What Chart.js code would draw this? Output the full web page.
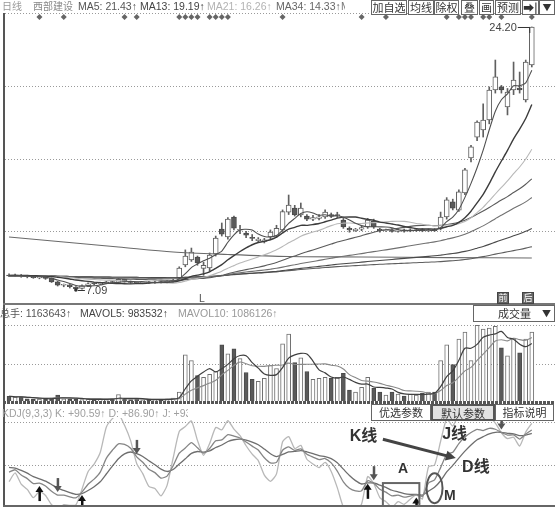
<!DOCTYPE html>
<html><head><meta charset="utf-8">
<script src="https://cdn.jsdelivr.net/npm/chart.js@4.4.0/dist/chart.umd.min.js"></script>
<style>
html,body{margin:0;padding:0;width:555px;height:507px;overflow:hidden;background:#fff;font-family:"Liberation Sans",Arial,"Noto Sans CJK SC",sans-serif;}
canvas{position:absolute;left:0;}
.t{position:absolute;font-size:10.5px;white-space:nowrap;line-height:12px;z-index:5;}
.cj{font-family:"Noto Sans CJK SC",sans-serif;font-size:10px;}
.btn{position:absolute;border:1px solid #666;font-size:11px;line-height:13px;text-align:center;color:#333;background:#fff;box-sizing:border-box;font-family:"Noto Sans CJK SC","Liberation Sans",sans-serif;z-index:6;white-space:nowrap;overflow:hidden;}
.ln{position:absolute;z-index:4;}
</style></head><body>
<canvas id="cMain" width="555" height="305" style="top:0"></canvas>
<canvas id="cVol" width="555" height="99" style="top:305px"></canvas>
<canvas id="cKdj" width="555" height="104" style="top:404px"></canvas>

<!-- header row 1 -->
<div class="t cj" style="left:2px;top:0;color:#999">日线</div>
<div class="t cj" style="left:33px;top:0;color:#888">西部建设</div>
<div class="t" style="left:78px;top:0;color:#555">MA5: 21.43↑</div>
<div class="t" style="left:140px;top:0;color:#444">MA13: 19.19↑</div>
<div class="t" style="left:207px;top:0;color:#b3b3b3">MA21: 16.26↑</div>
<div class="t" style="left:276px;top:0;color:#666">MA34: 14.33↑</div>
<div class="t" style="left:341px;top:0;color:#777;width:4px;overflow:hidden">M</div>
<div class="btn" style="left:371px;top:0;width:36px;height:15px">加自选</div>
<div class="btn" style="left:408px;top:0;width:26px;height:15px">均线</div>
<div class="btn" style="left:434px;top:0;width:25px;height:15px">除权</div>
<div class="btn" style="left:461px;top:0;width:17px;height:15px">叠</div>
<div class="btn" style="left:479px;top:0;width:15px;height:15px">画</div>
<div class="btn" style="left:495px;top:0;width:26px;height:15px">预测</div>
<div class="btn" style="left:522px;top:0;width:17px;height:15px;font-weight:bold">➡|</div>
<div class="btn" style="left:539px;top:0;width:16px;height:15px;font-size:9px">▼</div>

<!-- main panel misc -->
<div class="t" style="left:199px;top:292px;color:#555">L</div>
<div class="btn" style="left:497px;top:292px;width:12px;height:12px;font-size:9px;line-height:10px;background:#666;color:#fff;border-color:#444">前</div>
<div class="btn" style="left:522px;top:292px;width:12px;height:12px;font-size:9px;line-height:10px;background:#666;color:#fff;border-color:#444">后</div>

<!-- volume header -->
<div class="t" style="left:0;top:307px;color:#555"><span class="cj">总手</span>: 1163643↑</div>
<div class="t" style="left:80px;top:307px;color:#444">MAVOL5: 983532↑</div>
<div class="t" style="left:178px;top:307px;color:#999">MAVOL10: 1086126↑</div>
<div class="btn" style="left:473px;top:305px;width:82px;height:17px;line-height:15px;text-align:left;padding-left:24px">成交量<span style="position:absolute;left:68px;font-size:9px">▼</span></div>

<!-- kdj header -->
<div class="t" style="left:2px;top:407px;color:#a0a0a0;width:186px;overflow:hidden">KDJ(9,3,3) K: +90.59↑ D: +86.90↑ J: +93.97↑</div>
<div class="btn" style="left:371px;top:404px;width:60px;height:17px;line-height:15px">优选参数</div>
<div class="btn" style="left:431px;top:404px;width:64px;height:17px;line-height:15px;background:#e2e2e2;border:2px solid #555">默认参数</div>
<div class="btn" style="left:495px;top:404px;width:59px;height:17px;line-height:15px">指标说明</div>

<!-- frame lines -->
<div class="ln" style="left:3px;top:13px;width:2px;height:494px;background:#555"></div>
<div class="ln" style="left:3px;top:303px;width:552px;height:2px;background:#777"></div>
<div class="ln" style="left:3px;top:401px;width:552px;height:3px;background:repeating-linear-gradient(90deg,#555 0 3px,#fff 3px 4px)"></div>
<div class="ln" style="left:3px;top:505px;width:552px;height:2px;background:#666"></div>

<script>
// ---------------- DATA ----------------
const opens  = [8.05,8.00,8.05,7.98,7.95,7.88,7.92,7.85,7.62,7.40,7.42,7.28,7.20,7.38,7.50,7.48,7.55,7.60,7.58,7.78,7.65,7.58,7.55,7.60,7.56,7.62,7.58,7.65,
  7.85,8.72,9.04,9.24,8.50,8.52,9.43,11.05,10.54,11.84,10.98,10.80,10.50,10.30,10.25,10.54,10.60,11.00,12.16,12.42,11.97,11.90,11.70,11.75,11.84,12.00,11.90,11.64,11.10,10.95,11.05,11.19,11.58,11.05,10.95,11.00,10.90,11.00,10.92,10.95,11.02,10.93,11.02,
  11.12,11.84,12.82,12.29,13.40,15.68,17.04,17.50,18.15,20.10,20.30,19.00,20.10,20.23,19.45,21.73];
const highs  = [8.15,8.12,8.10,8.05,8.00,7.98,7.95,7.88,7.66,7.48,7.45,7.32,7.42,7.55,7.58,7.60,7.66,7.66,7.86,7.80,7.68,7.62,7.64,7.65,7.66,7.66,7.70,7.80,
  8.60,9.70,9.82,9.30,8.90,9.50,10.60,11.45,11.80,11.90,11.30,10.90,10.70,10.50,10.45,11.00,11.30,12.30,13.27,12.60,12.75,12.00,11.95,12.00,12.30,12.10,12.15,11.75,11.20,11.10,11.25,11.75,11.70,11.10,11.05,11.08,11.05,11.06,11.06,11.10,11.08,11.06,11.08,
  12.16,13.10,13.00,13.60,15.00,16.50,18.10,19.20,20.30,22.05,20.40,20.20,21.92,21.27,22.05,24.20];
const lows   = [7.95,7.95,7.92,7.88,7.85,7.82,7.78,7.58,7.35,7.30,7.22,7.09,7.15,7.35,7.42,7.44,7.50,7.52,7.55,7.60,7.52,7.50,7.50,7.52,7.52,7.54,7.55,7.60,
  7.80,8.60,8.95,8.70,8.05,8.30,9.30,10.60,10.40,11.00,10.75,10.50,10.30,10.20,10.15,10.40,10.50,10.90,12.00,11.90,11.85,11.60,11.60,11.65,11.75,11.80,11.80,11.10,10.85,10.90,10.95,11.10,11.10,10.85,10.90,10.85,10.85,10.86,10.88,10.90,10.88,10.88,10.90,
  11.00,11.70,12.30,12.20,13.30,15.42,16.80,17.04,17.90,19.90,19.90,18.48,19.80,19.90,19.32,21.60];
const closes = [8.00,8.05,7.98,7.95,7.90,7.92,7.85,7.62,7.40,7.42,7.30,7.18,7.38,7.50,7.48,7.55,7.60,7.58,7.78,7.65,7.58,7.55,7.60,7.56,7.62,7.58,7.65,7.72,
  8.52,9.30,9.56,8.85,8.70,9.37,10.47,10.73,11.71,11.12,11.02,10.65,10.45,10.40,10.35,10.86,11.10,12.20,12.62,11.97,12.42,11.70,11.80,11.85,12.16,11.90,12.00,11.19,11.00,11.05,11.15,11.64,11.19,10.95,11.00,10.90,11.00,10.92,11.00,11.02,10.93,11.00,10.95,
  11.84,12.95,12.42,13.47,14.90,16.40,18.02,18.15,20.10,20.95,20.10,19.97,20.75,20.10,21.92,24.20];
const volumes = [110000,95000,100000,70000,60000,65000,70000,80000,130000,70000,65000,60000,55000,60000,65000,60000,55000,70000,140000,60000,55000,60000,50000,55000,60000,55000,65000,80000,
  178000,792000,695000,452000,420000,469000,517000,953000,808000,889000,727000,501000,388000,356000,404000,614000,566000,970000,1131000,663000,743000,517000,388000,404000,420000,404000,420000,485000,210000,178000,
  259000,420000,242000,178000,129000,178000,145000,113000,145000,129000,162000,178000,178000,
  695000,953000,630000,1050000,1163000,695000,1276000,1212000,1228000,1260000,905000,776000,1066000,824000,1050000,1163643];
// closes of the sessions before the visible window (flat base, estimated)
const priorCloses = [8.10,8.05,8.12,8.08,8.02,7.98,8.04,8.10,8.15,8.08,8.00,7.95,7.98,8.03,8.06,8.01,7.96,7.92,7.97,8.02,8.05,8.00,7.94,7.90,7.93,7.99,8.04,8.08,8.03,7.97,7.92,7.88,7.93,7.98,8.02,8.06,8.01,7.96,7.91,7.95,8.00,8.04,8.07,8.02,7.98,7.94,7.97,8.01,8.05,8.09,8.04,7.99,8.03,8.07,8.10,8.06,8.02];
// MA233 at a few sessions
const ma233Days   = [0, 9, 18, 27, 36, 46, 58, 72, 86];
const ma233Values = [10.54, 10.21, 9.89, 9.56, 9.40, 9.27, 9.24, 9.20, 9.17];
const maPeriods = [5, 13, 21, 34, 55, 89, 144];
const maColors  = ['#505050', '#3c3c3c', '#b8b8b8', '#5a5a5a', '#707070', '#4a4a4a', '#5e5e5e'];
const eventDays = [5, 9, 19, 21, 28, 29, 30, 31, 33, 34, 35, 36, 45, 58, 62, 72, 74, 75, 76, 78, 79, 81, 86];
const upArrowDays = [5, 12, 59, 67];
const downArrowDays = [8, 21, 60, 81];
const priceRange = [6.18, 25.11];
const volRange = [0, 1280000];
const kdjRange = [0, 100];
// ---------------------------------------
const nData = closes.length;
const nSlots = nData + 2;
const labels = Array.from({length: nSlots}, (_, i) => 'D' + (i + 1));
const isUp = closes.map((c, i) => c >= opens[i]);

function movingAvg(arr, prior, n) {
  const all = prior.concat(arr), off = prior.length;
  return arr.map((_, i) => {
    const end = off + i, start = Math.max(0, end - n + 1);
    let s = 0; for (let k = start; k <= end; k++) s += all[k];
    return +(s / (end - start + 1)).toFixed(4);
  });
}
function kdjCalc() {
  let K = 50, D = 50; const Ks = [], Ds = [], Js = [];
  for (let i = 0; i < nData; i++) {
    const s = Math.max(0, i - 8);
    const hh = Math.max(...highs.slice(s, i + 1)), ll = Math.min(...lows.slice(s, i + 1));
    const rsv = hh === ll ? 50 : (closes[i] - ll) / (hh - ll) * 100;
    K = (2 * K + rsv) / 3; D = (2 * D + K) / 3;
    Ks.push(K); Ds.push(D); Js.push(3 * K - 2 * D);
  }
  return {Ks, Ds, Js};
}
function quarterTicks(parts) {
  return ax => { ax.ticks = Array.from({length: parts + 1}, (_, k) => ({value: ax.min + k * (ax.max - ax.min) / parts})); };
}
const dottedGrid = {
  id: 'dottedGrid',
  beforeDatasetsDraw(chart) {
    const {ctx, scales: {y}} = chart;
    ctx.save(); ctx.strokeStyle = '#9a9a9a'; ctx.lineWidth = 1; ctx.setLineDash([1, 2]);
    y.ticks.forEach(t => {
      const py = Math.round(y.getPixelForValue(t.value)) + 0.5;
      ctx.beginPath(); ctx.moveTo(5, py); ctx.lineTo(555, py); ctx.stroke();
    });
    ctx.restore();
  }
};
const baseOpts = (range, parts, pad) => ({
  responsive: false, animation: false, events: [],
  layout: {padding: pad},
  plugins: {legend: {display: false}, tooltip: {enabled: false}},
  scales: {
    x: {display: false, offset: true},
    y: {display: false, min: range[0], max: range[1], afterBuildTicks: quarterTicks(parts)}
  }
});
const pad = (t, b) => ({left: 6, right: 8, top: t, bottom: b});

// ---------------- MAIN CHART ----------------
const maSets = maPeriods.map((p, k) => ({
  type: 'line', label: 'MA' + p, data: movingAvg(closes, priorCloses, p),
  borderColor: maColors[k], borderWidth: p === 13 ? 1.4 : 1.1, pointRadius: 0, tension: 0.2, order: 0
}));
const ma233 = new Array(nSlots).fill(null);
ma233Days.forEach((d, k) => ma233[d] = ma233Values[k]);
maSets.push({type: 'line', label: 'MA233', data: ma233, spanGaps: true, borderColor: '#6a6a6a', borderWidth: 1.1, pointRadius: 0, tension: 0.3, order: 0});

const mainMarks = {
  id: 'mainMarks',
  afterDatasetsDraw(chart) {
    const {ctx, chartArea, scales: {x, y}} = chart;
    ctx.save();
    ctx.fillStyle = '#666';
    eventDays.forEach(d => {
      const px = x.getPixelForValue(d), py = chartArea.top + 4;
      ctx.beginPath(); ctx.moveTo(px, py - 3); ctx.lineTo(px + 3, py); ctx.lineTo(px, py + 3); ctx.lineTo(px - 3, py); ctx.closePath(); ctx.fill();
    });
    const hi = highs.indexOf(Math.max(...highs)), lo = lows.indexOf(Math.min(...lows));
    const hx = x.getPixelForValue(hi), hy = y.getPixelForValue(highs[hi]);
    ctx.strokeStyle = '#333'; ctx.lineWidth = 1;
    ctx.beginPath(); ctx.moveTo(hx - 14, hy + 0.5); ctx.lineTo(hx - 2, hy + 0.5); ctx.lineTo(hx - 2, hy + 6); ctx.stroke();
    ctx.font = '11px "Liberation Sans", Arial, sans-serif'; ctx.fillStyle = '#444';
    ctx.textAlign = 'right'; ctx.textBaseline = 'middle';
    ctx.fillText(highs[hi].toFixed(2), hx - 15, hy + 1);
    const lx = x.getPixelForValue(lo), ly = y.getPixelForValue(lows[lo]);
    ctx.beginPath(); ctx.arc(lx, ly, 1.8, 0, Math.PI * 2); ctx.fillStyle = '#333'; ctx.fill();
    ctx.beginPath(); ctx.moveTo(lx + 2, ly + 0.5); ctx.lineTo(lx + 9, ly + 0.5); ctx.stroke();
    ctx.textAlign = 'left'; ctx.fillStyle = '#444';
    ctx.fillText(lows[lo].toFixed(2), lx + 10, ly + 1);
    ctx.restore();
  }
};

new Chart(document.getElementById('cMain'), {
  type: 'bar',
  data: {labels, datasets: [
    ...maSets,
    {type: 'bar', label: 'body', data: opens.map((o, i) => [o, closes[i]]), grouped: false,
     backgroundColor: isUp.map(u => u ? '#ffffff' : '#5a5a5a'), borderColor: isUp.map(u => u ? '#606060' : '#4a4a4a'),
     borderWidth: 1, borderSkipped: false, barThickness: 5, minBarLength: 1, order: 1},
    {type: 'bar', label: 'wick', data: lows.map((l, i) => [l, highs[i]]), grouped: false,
     backgroundColor: '#606060', barThickness: 1, order: 2}
  ]},
  options: baseOpts(priceRange, 4, pad(13, 1)),
  plugins: [dottedGrid, mainMarks]
});

// ---------------- VOLUME CHART ----------------
new Chart(document.getElementById('cVol'), {
  type: 'bar',
  data: {labels, datasets: [
    {type: 'line', label: 'MAVOL5', data: movingAvg(volumes, [], 5), borderColor: '#404040', borderWidth: 1.2, pointRadius: 0, tension: 0.3, order: 0},
    {type: 'line', label: 'MAVOL10', data: movingAvg(volumes, [], 10), borderColor: '#8a8a8a', borderWidth: 1.1, pointRadius: 0, tension: 0.3, order: 0},
    {type: 'bar', label: 'VOL', data: volumes, grouped: false,
     backgroundColor: isUp.map(u => u ? '#ffffff' : '#5a5a5a'), borderColor: isUp.map(u => u ? '#707070' : '#4a4a4a'),
     borderWidth: 1, borderSkipped: false, barThickness: 4, order: 1}
  ]},
  options: baseOpts(volRange, 2, pad(20, 1)),
  plugins: [dottedGrid]
});

// ---------------- KDJ CHART ----------------
const {Ks, Ds, Js} = kdjCalc();
const kdjMarks = {
  id: 'kdjMarks',
  afterDatasetsDraw(chart) {
    const {ctx, scales: {x, y}} = chart;
    ctx.save();
    upArrowDays.forEach(d => {
      const px = x.getPixelForValue(d), tip = y.getPixelForValue(Ks[d]) + 3;
      ctx.fillStyle = '#111'; ctx.fillRect(px - 1, tip + 5, 2.5, 10);
      ctx.beginPath(); ctx.moveTo(px, tip); ctx.lineTo(px + 4, tip + 6); ctx.lineTo(px - 4, tip + 6); ctx.closePath(); ctx.fill();
    });
    downArrowDays.forEach(d => {
      const px = x.getPixelForValue(d), tip = y.getPixelForValue(Ks[d]) - 3;
      ctx.fillStyle = '#555'; ctx.fillRect(px - 1, tip - 14, 2.5, 9);
      ctx.beginPath(); ctx.moveTo(px, tip); ctx.lineTo(px + 4, tip - 6); ctx.lineTo(px - 4, tip - 6); ctx.closePath(); ctx.fill();
    });
    const step = x.getPixelForValue(1) - x.getPixelForValue(0);
    const bx0 = x.getPixelForValue(62) - step / 2, bx1 = x.getPixelForValue(67) + step / 2;
    const by0 = y.getPixelForValue(29), by1 = y.getPixelForValue(-3);
    ctx.strokeStyle = '#666'; ctx.lineWidth = 2; ctx.strokeRect(bx0, by0, bx1 - bx0, by1 - by0);
    ctx.beginPath(); ctx.ellipse(x.getPixelForValue(70), y.getPixelForValue(23), 8, 15, 0, 0, Math.PI * 2);
    ctx.strokeStyle = '#555'; ctx.stroke();
    const ax0 = x.getPixelForValue(61.5), ay0 = y.getPixelForValue(80), ax1 = x.getPixelForValue(73.5), ay1 = y.getPixelForValue(58);
    ctx.strokeStyle = '#444'; ctx.lineWidth = 3;
    ctx.beginPath(); ctx.moveTo(ax0, ay0); ctx.lineTo(ax1 - 6, ay1 - 1.5); ctx.stroke();
    const ang = Math.atan2(ay1 - ay0, ax1 - ax0);
    ctx.fillStyle = '#444'; ctx.beginPath(); ctx.moveTo(ax1, ay1);
    ctx.lineTo(ax1 - 10 * Math.cos(ang) + 5 * Math.sin(ang), ay1 - 10 * Math.sin(ang) - 5 * Math.cos(ang));
    ctx.lineTo(ax1 - 10 * Math.cos(ang) - 5 * Math.sin(ang), ay1 - 10 * Math.sin(ang) + 5 * Math.cos(ang));
    ctx.closePath(); ctx.fill();
    ctx.font = 'bold 16px "Liberation Sans", "Noto Sans CJK SC", sans-serif';
    ctx.fillStyle = '#333'; ctx.textAlign = 'center'; ctx.textBaseline = 'middle';
    ctx.fillText('K线', x.getPixelForValue(58.3), y.getPixelForValue(83));
    ctx.fillText('J线', x.getPixelForValue(73.3), y.getPixelForValue(85));
    ctx.fillText('D线', x.getPixelForValue(76.8), y.getPixelForValue(47));
    ctx.font = 'bold 14px "Liberation Sans", sans-serif';
    ctx.fillText('A', x.getPixelForValue(64.8), y.getPixelForValue(45));
    ctx.fillText('M', x.getPixelForValue(72.5), y.getPixelForValue(14));
    ctx.restore();
  }
};
new Chart(document.getElementById('cKdj'), {
  type: 'line',
  data: {labels, datasets: [
    {label: 'K', data: Ks, borderColor: '#858585', borderWidth: 1.3, pointRadius: 0, tension: 0.2},
    {label: 'D', data: Ds, borderColor: '#6e6e6e', borderWidth: 1.3, pointRadius: 0, tension: 0.2},
    {label: 'J', data: Js, borderColor: '#b8b8b8', borderWidth: 1.3, pointRadius: 0, tension: 0.2, clip: {left: 0, top: 4, right: 0, bottom: 0}}
  ]},
  options: baseOpts(kdjRange, 2, pad(18, 0)),
  plugins: [dottedGrid, kdjMarks]
});
</script>
</body></html>
